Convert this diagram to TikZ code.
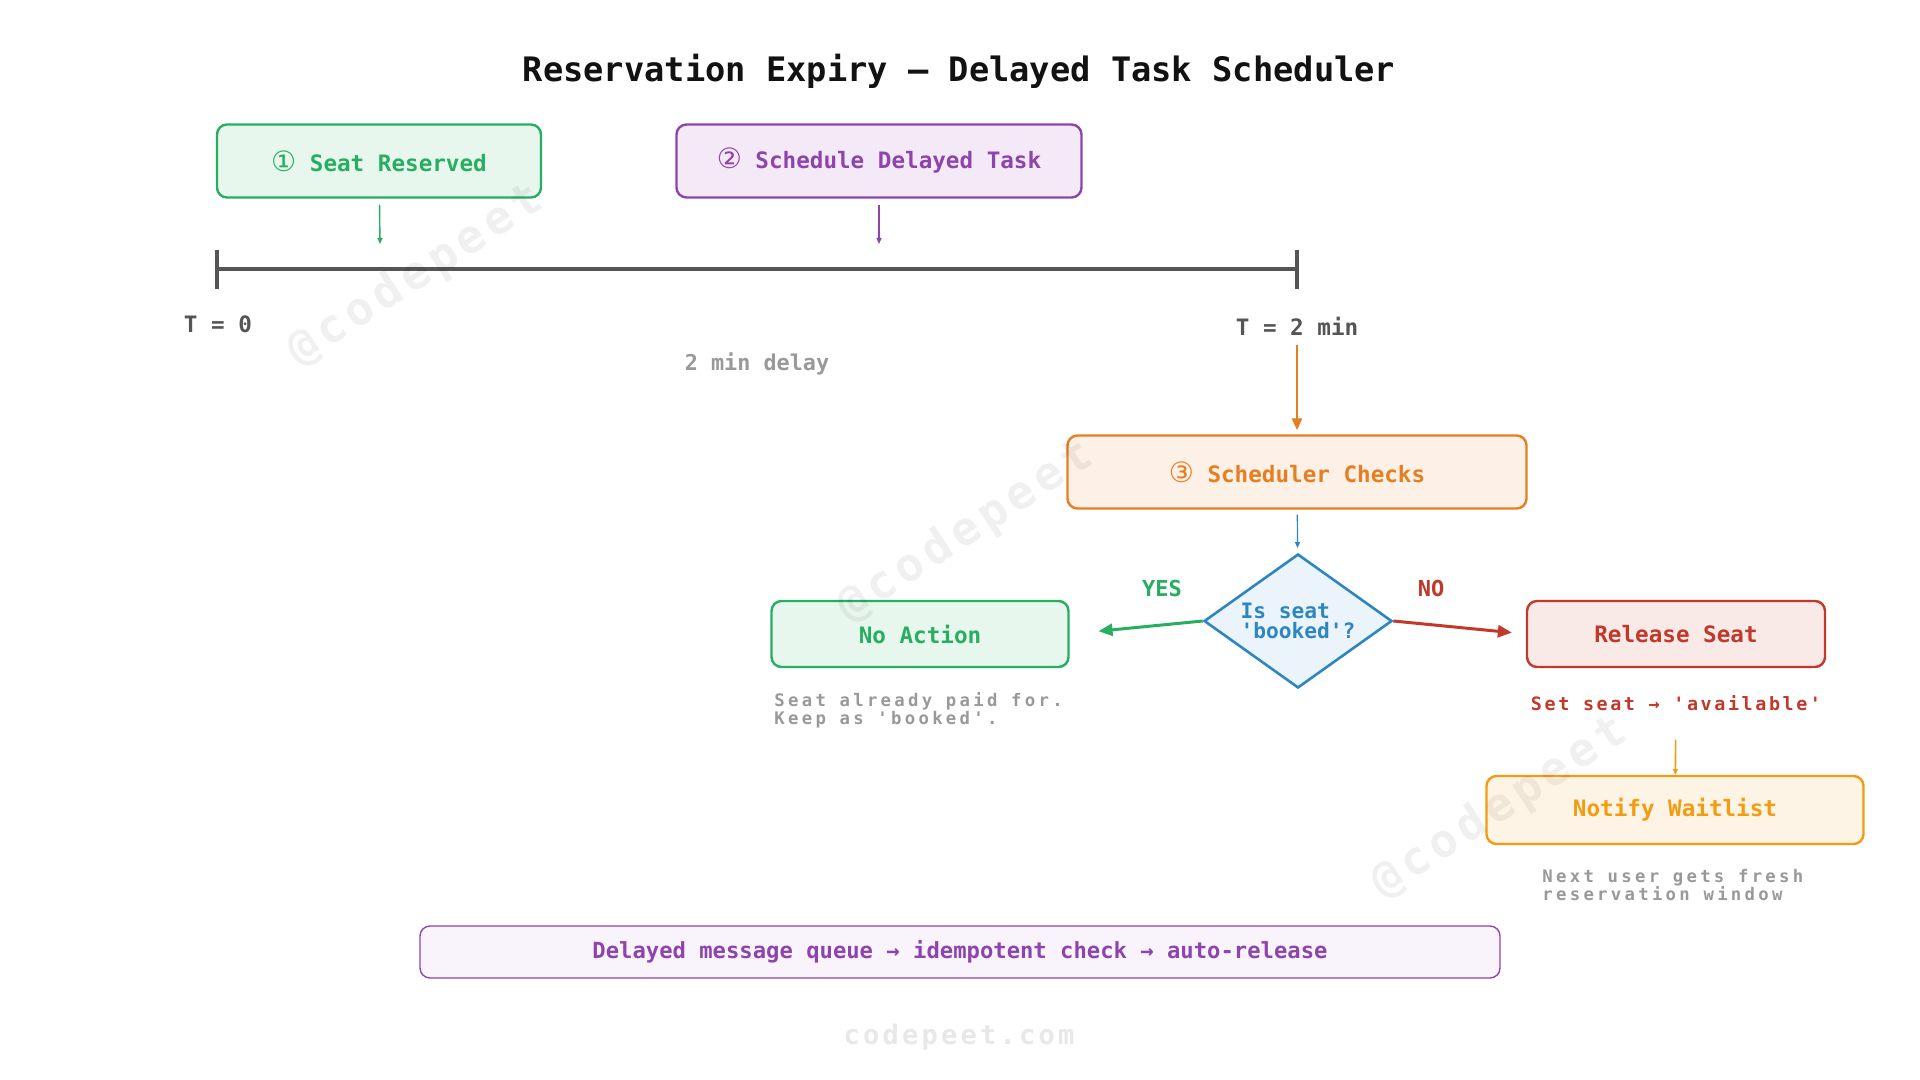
\documentclass[tikz,border=0pt]{standalone}
\usepackage{fontspec}
\setmonofont{DejaVu Sans Mono}[Ligatures=TeXOff]
\newfontfamily\circfont{DejaVu Sans}
\newfontfamily\notefont{DejaVu Sans Mono}[Ligatures=TeXOff,LetterSpace=19]
\newfontfamily\availfont{DejaVu Sans Mono}[Ligatures=TeXOff,LetterSpace=14]
\newfontfamily\markfont{DejaVu Sans Mono}[Ligatures=TeXOff,LetterSpace=12]
\usepackage{tikz}
\usetikzlibrary{
	arrows.meta,
	positioning,
	shapes.geometric
}
\definecolor{SeatGreen}{HTML}{27AE60}
\definecolor{SeatGreenBg}{HTML}{E8F7EE}
\definecolor{TaskPurple}{HTML}{8E44AD}
\definecolor{TaskPurpleBg}{HTML}{F4EAF7}
\definecolor{BannerBg}{HTML}{F9F4FB}
\definecolor{CheckOrange}{HTML}{E67E22}
\definecolor{CheckOrangeBg}{HTML}{FDF0E6}
\definecolor{AskBlue}{HTML}{2E86C1}
\definecolor{AskBlueBg}{HTML}{EBF4FA}
\definecolor{FreeRed}{HTML}{C0392B}
\definecolor{FreeRedBg}{HTML}{F9EAE8}
\definecolor{WaitAmber}{HTML}{F39C12}
\definecolor{WaitAmberBg}{HTML}{FEF4E6}
\definecolor{LineGray}{HTML}{555555}
\definecolor{NoteGray}{HTML}{999999}

\newcommand{\circnum}[1]{{\circfont\mdseries\fontsize{14}{14}\selectfont #1}}

\tikzset{
	stepbox/.style={draw,rounded corners=5pt,line width=1.2pt,minimum height=36.5pt,
		font=\ttfamily\bfseries\fontsize{11.3}{13}\selectfont},
	note/.style={inner sep=0pt,align=left,text=NoteGray,
		font=\notefont\bfseries\fontsize{8.65}{9}\selectfont},
	thinarrow/.style={line width=0.7pt,-{Triangle[length=3pt,width=2.5pt]}},
	thickarrow/.style={line width=1.5pt,-{Triangle[length=7pt,width=6pt]}},
	wmark/.style={text=black!6,blend mode=multiply,rotate=33,font=\markfont\bfseries\fontsize{23}{23}\selectfont}
}

\begin{document}
\begin{tikzpicture}[x=0.5pt,y=-0.5pt]
	\useasboundingbox (0,0) rectangle (1920,1080);
	\fill[white] (0,0) rectangle (1920,1080);
	\node[text=black!93,font=\ttfamily\bfseries\fontsize{16.85}{20}\selectfont] (title) at (959,71) {Reservation Expiry — Delayed Task Scheduler};
	\node[stepbox,draw=SeatGreen,fill=SeatGreenBg,text=SeatGreen,minimum width=162pt] (reserved) at (379,161) {\circnum{①} Seat Reserved};
	\node[stepbox,draw=TaskPurple,fill=TaskPurpleBg,text=TaskPurple,minimum width=202.5pt] (schedule) at (879,161) {\circnum{②} Schedule Delayed Task};
	\coordinate (t0) at (217,269);
	\coordinate (t2) at (1297,269);
	\coordinate (resmark) at (380,244);
	\coordinate (schmark) at (879,244);
	\draw[thinarrow,SeatGreen,shorten <=3pt] (reserved) -- (resmark);
	\draw[thinarrow,TaskPurple,shorten <=3pt] (schedule) -- (schmark);
	\draw[LineGray,line width=1.6pt] (t0) -- (t2);
	\draw[LineGray,line width=1.6pt] (t0) ++(0,-19) -- ++(0,39);
	\draw[LineGray,line width=1.6pt] (t2) ++(0,-19) -- ++(0,39);
	\node[text=LineGray,font=\ttfamily\bfseries\fontsize{11.3}{13}\selectfont] (tzero) at (218,324) {T = 0};
	\node[text=LineGray,font=\ttfamily\bfseries\fontsize{11.3}{13}\selectfont] (ttwo) at (1297,326) {T = 2 min};
	\node[text=NoteGray,font=\ttfamily\bfseries\fontsize{10.9}{13}\selectfont] (delay) at (757,364) {2 min delay};
	\node[stepbox,draw=CheckOrange,fill=CheckOrangeBg,text=CheckOrange,minimum width=229.5pt] (checks) at (1297,472) {\circnum{③} Scheduler Checks};
	\draw[CheckOrange,line width=1.3pt,-{Triangle[length=6pt,width=5pt]},shorten <=1.5pt,shorten >=2pt] (ttwo) -- (checks);
	\node[diamond,draw=AskBlue,fill=AskBlueBg,line width=1.3pt,inner sep=0pt,aspect=1.4,
		minimum width=94pt,minimum height=67pt,align=left,text=AskBlue,
		font=\ttfamily\bfseries\fontsize{10.6}{10}\selectfont] (decide) at (1298,621) {Is seat\\'booked'?};
	\draw[thinarrow,AskBlue,line width=0.6pt,shorten <=2.5pt,shorten >=2.5pt] (checks) -- (decide);
	\node[text=SeatGreen,font=\ttfamily\bfseries\fontsize{11}{13}\selectfont] (yes) at (1162,588) {YES};
	\node[text=FreeRed,font=\ttfamily\bfseries\fontsize{11}{13}\selectfont] (no) at (1431,588) {NO};
	\node[stepbox,draw=SeatGreen,fill=SeatGreenBg,text=SeatGreen,minimum width=148.5pt,minimum height=33pt] (noaction) at (920,634) {No Action};
	\node[stepbox,draw=FreeRed,fill=FreeRedBg,text=FreeRed,minimum width=149pt,minimum height=33pt] (release) at (1676,634) {Release Seat};
	\draw[thickarrow,SeatGreen,shorten >=14.5pt] (decide.west) -- (noaction.east);
	\draw[thickarrow,FreeRed,shorten >=7pt] (decide.east) -- (release.west);
	\node[note,anchor=north west] (paidnote) at (774,692) {Seat already paid for.\\Keep as 'booked'.};
	\node[text=FreeRed,font=\availfont\bfseries\fontsize{9.2}{11}\selectfont] (availnote) at (1676,703) {Set seat → 'available'};
	\node[stepbox,draw=WaitAmber,fill=WaitAmberBg,text=WaitAmber,minimum width=188.5pt,minimum height=34pt] (notify) at (1675,810) {Notify Waitlist};
	\draw[WaitAmber,line width=0.8pt,-{Triangle[length=3pt,width=2.5pt]},shorten <=11pt] (availnote) -- (notify);
	\node[note,anchor=north west] (waitnote) at (1542,869) {Next user gets fresh\\reservation window};
	\node[draw=TaskPurple,fill=BannerBg,line width=0.7pt,rounded corners=5pt,minimum width=540pt,minimum height=26pt,
		text=TaskPurple,font=\ttfamily\bfseries\fontsize{11.1}{13}\selectfont] (banner) at (960,952) {Delayed message queue → idempotent check → auto-release};
	\node[text=black!9,font=\markfont\bfseries\fontsize{13.5}{15}\selectfont] (site) at (959,1037) {codepeet.com};
	\node[wmark] (wma) at (416,276) {@codepeet};
	\node[wmark] (wmb) at (966,532) {@codepeet};
	\node[wmark] (wmc) at (1500,808) {@codepeet};
\end{tikzpicture}
\end{document}
